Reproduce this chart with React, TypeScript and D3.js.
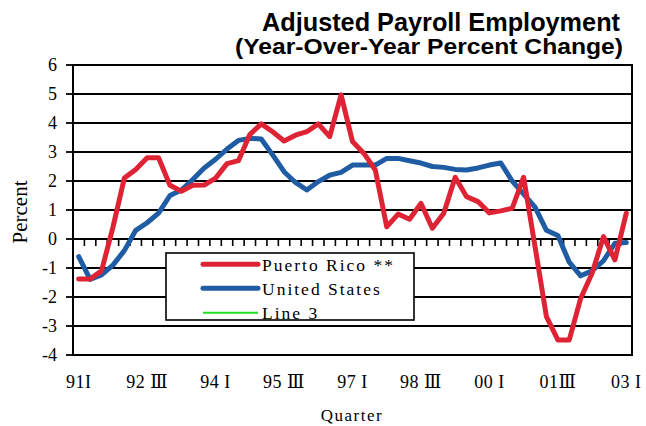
import React from "react";
import * as d3 from "d3";

const quarters: string[] = [
  "91Q1","91Q2","91Q3","91Q4","92Q1","92Q2","92Q3","92Q4","93Q1","93Q2","93Q3","93Q4",
  "94Q1","94Q2","94Q3","94Q4","95Q1","95Q2","95Q3","95Q4","96Q1","96Q2","96Q3","96Q4",
  "97Q1","97Q2","97Q3","97Q4","98Q1","98Q2","98Q3","98Q4","99Q1","99Q2","99Q3","99Q4",
  "00Q1","00Q2","00Q3","00Q4","01Q1","01Q2","01Q3","01Q4","02Q1","02Q2","02Q3","02Q4",
  "03Q1",
];

const puertoRico: number[] = [
  -1.38, -1.38, -1.1, 0.4, 2.1, 2.4, 2.8, 2.8, 1.85, 1.65, 1.85, 1.86,
  2.1, 2.6, 2.7, 3.6, 3.97, 3.7, 3.38, 3.58, 3.7, 3.97, 3.53, 4.97,
  3.36, 2.95, 2.38, 0.42, 0.86, 0.68, 1.23, 0.37, 0.89, 2.13, 1.46, 1.29,
  0.9, 0.97, 1.06, 2.13, -0.26, -2.68, -3.48, -3.48, -2.05, -1.18, 0.08, -0.72,
  0.89,
];

const unitedStates: number[] = [
  -0.61, -1.39, -1.24, -0.9, -0.4, 0.3, 0.56, 0.89, 1.5, 1.69, 2.05, 2.45,
  2.75, 3.1, 3.4, 3.47, 3.45, 2.9, 2.32, 1.95, 1.69, 1.98, 2.2, 2.3,
  2.55, 2.55, 2.55, 2.78, 2.78, 2.7, 2.62, 2.5, 2.47, 2.4, 2.38, 2.45,
  2.55, 2.62, 2.0, 1.55, 1.1, 0.3, 0.12, -0.8, -1.27, -1.1, -0.75, -0.15,
  -0.12,
];

const xTickLabels: { index: number; label: string }[] = [
  { index: 0, label: "91I" },
  { index: 6, label: "92 \u2162" },
  { index: 12, label: "94 I" },
  { index: 18, label: "95 \u2162" },
  { index: 24, label: "97 I" },
  { index: 30, label: "98 \u2162" },
  { index: 36, label: "00 I" },
  { index: 42, label: "01\u2162" },
  { index: 48, label: "03 I" },
];

const yTicks: number[] = [6, 5, 4, 3, 2, 1, 0, -1, -2, -3, -4];

const legendItems: { name: string; color: string; width: number }[] = [
  { name: "Puerto Rico **", color: "#DE2335", width: 5 },
  { name: "United States", color: "#1F5CA3", width: 5 },
  { name: "Line 3", color: "#22E022", width: 2 },
];

const W = 646;
const H = 426;
const left = 73;
const right = 632;
const top = 65;
const bottom = 355;

export default function App() {
  const x = d3
    .scaleBand<number>()
    .domain(quarters.map((_, i) => i))
    .range([left, right])
    .padding(0);
  const bw = x.bandwidth();
  const cx = (i: number) => (x(i) as number) + bw / 2;
  const y = d3.scaleLinear().domain([-4, 6]).range([bottom, top]);

  const line = d3
    .line<number>()
    .x((_, i) => cx(i))
    .y((d) => y(d));

  const serif = "'Liberation Serif', 'DejaVu Serif', 'Times New Roman', serif";
  const sans = "'Liberation Sans', 'DejaVu Sans', Arial, sans-serif";

  const boundaries = d3.range(1, quarters.length).map((i) => x(i) as number);

  const lgX = 166, lgY = 253, lgW = 248, lgH = 67;
  const rowY = [264.3, 288.3, 312.7];

  return (
    <svg
      width={W}
      height={H}
      viewBox={`0 0 ${W} ${H}`}
      style={{ position: "absolute", left: 0, top: 0, background: "#fff" }}
    >
      <defs>
        <clipPath id="lgclip">
          <rect x={lgX} y={lgY} width={lgW} height={lgH} />
        </clipPath>
      </defs>
      <rect x={0} y={0} width={W} height={H} fill="#fff" />

      {/* Title */}
      <text
        x={262}
        y={31}
        fontFamily={sans}
        fontWeight="bold"
        fontSize={25}
        textLength={358}
        lengthAdjust="spacingAndGlyphs"
        fill="#000"
      >
        Adjusted Payroll Employment
      </text>
      <text
        x={235}
        y={54}
        fontFamily={sans}
        fontWeight="bold"
        fontSize={22}
        textLength={388}
        lengthAdjust="spacingAndGlyphs"
        fill="#000"
      >
        (Year-Over-Year Percent Change)
      </text>

      {/* Gridlines */}
      {yTicks.map((t) => (
        <line
          key={"g" + t}
          x1={left}
          x2={right}
          y1={y(t)}
          y2={y(t)}
          stroke="#000"
          strokeWidth={t === 0 ? 2 : 1.8}
        />
      ))}

      {/* Zero-line category ticks */}
      {boundaries.map((bx, i) => (
        <line
          key={"xt" + i}
          x1={bx}
          x2={bx}
          y1={y(0)}
          y2={y(0) + 7}
          stroke="#000"
          strokeWidth={1.6}
        />
      ))}

      {/* Plot border */}
      <rect
        x={left}
        y={top}
        width={right - left}
        height={bottom - top}
        fill="none"
        stroke="#000"
        strokeWidth={2}
      />

      {/* Y axis ticks & labels */}
      {yTicks.map((t) => (
        <g key={"yt" + t}>
          <line x1={left - 7} x2={left} y1={y(t)} y2={y(t)} stroke="#000" strokeWidth={1.8} />
          <text
            x={57}
            y={y(t) + 6}
            textAnchor="end"
            fontFamily={serif}
            fontSize={18}
            fill="#000"
          >
            {t}
          </text>
        </g>
      ))}

      <text
        transform={`translate(27, ${212}) rotate(-90)`}
        textAnchor="middle"
        fontFamily={serif}
        fontSize={21}
        fill="#000"
      >
        Percent
      </text>

      {/* X labels */}
      {xTickLabels.map((d) => (
        <text
          key={"xl" + d.index}
          x={cx(d.index)}
          y={388}
          textAnchor="middle"
          fontFamily={serif}
          fontSize={18}
          letterSpacing={0.5}
          fill="#000"
        >
          {d.label}
        </text>
      ))}

      <text
        x={352}
        y={421}
        textAnchor="middle"
        fontFamily={serif}
        fontSize={17}
        letterSpacing={1.5}
        fill="#000"
      >
        Quarter
      </text>

      {/* Series */}
      <path
        d={line(unitedStates) || ""}
        fill="none"
        stroke={legendItems[1].color}
        strokeWidth={5}
        strokeLinejoin="round"
        strokeLinecap="round"
      />
      <path
        d={line(puertoRico) || ""}
        fill="none"
        stroke={legendItems[0].color}
        strokeWidth={5}
        strokeLinejoin="round"
        strokeLinecap="round"
      />

      {/* Legend */}
      <rect x={lgX} y={lgY} width={lgW} height={lgH} fill="#fff" stroke="none" />
      <g clipPath="url(#lgclip)">
        {legendItems.map((it, i) => (
          <g key={"lg" + i}>
            <line
              x1={203}
              x2={258}
              y1={rowY[i]}
              y2={rowY[i]}
              stroke={it.color}
              strokeWidth={it.width}
              strokeLinecap={it.width > 3 ? "round" : "butt"}
            />
            <text
              x={262}
              y={rowY[i] + 6.5}
              fontFamily={serif}
              fontSize={17.5}
              letterSpacing={2}
              fill="#000"
            >
              {it.name}
            </text>
          </g>
        ))}
      </g>
      <rect x={lgX} y={lgY} width={lgW} height={lgH} fill="none" stroke="#000" strokeWidth={1.6} />
    </svg>
  );
}
